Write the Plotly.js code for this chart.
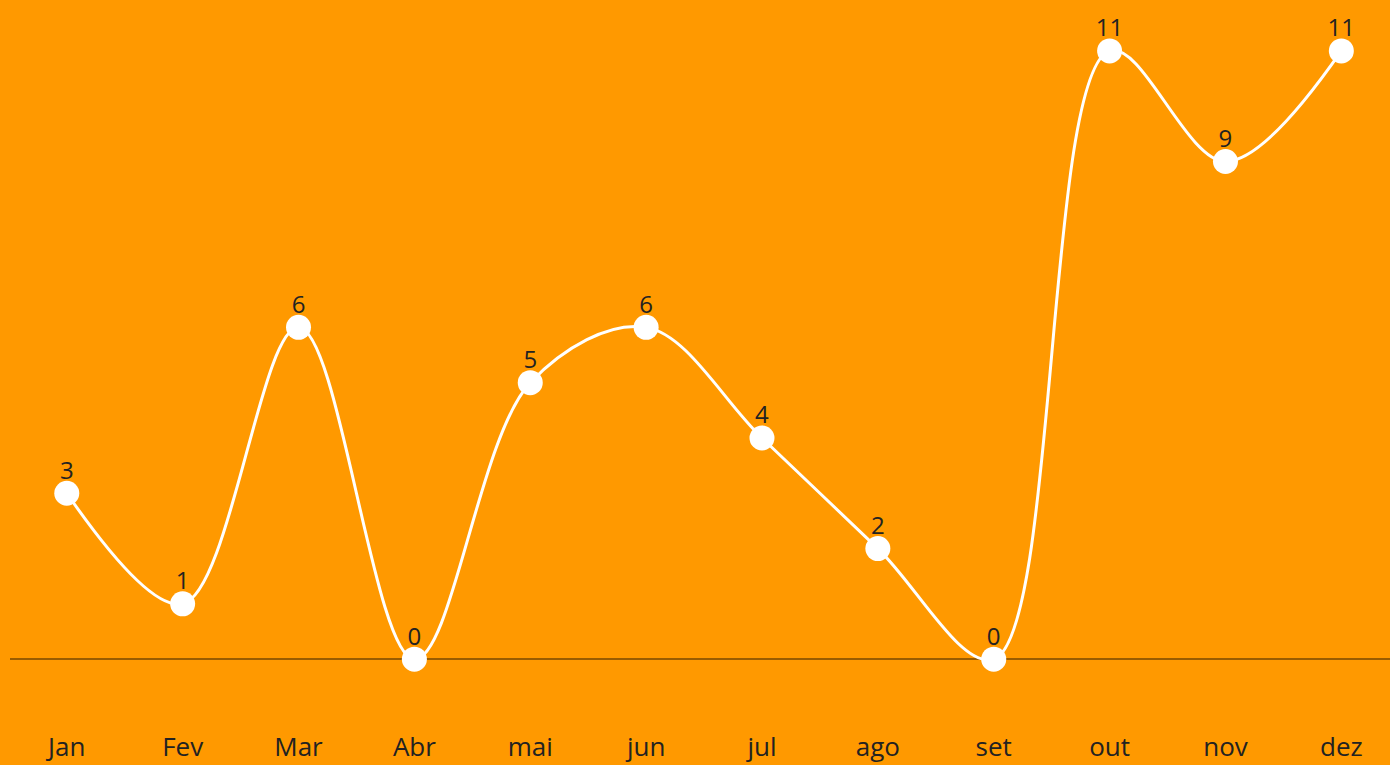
<!DOCTYPE html>
<html><head><meta charset="utf-8">
<script src="https://cdn.plot.ly/plotly-3.0.1.min.js"></script>
<style>html,body{margin:0;padding:0;background:#FF9900;}#chart{width:1390px;height:765px;}</style>
</head><body><div id="chart"></div>
<script>
const months = ["Jan","Fev","Mar","Abr","mai","jun","jul","ago","set","out","nov","dez"];
const values = [3,1,6,0,5,6,4,2,0,11,9,11];

const lineTrace = {
  x: months, y: values, type: "scatter", mode: "lines+markers",
  line: {shape: "spline", smoothing: 1, color: "#ffffff", width: 3},
  marker: {size: 25, color: "#ffffff"},
  cliponaxis: false, hoverinfo: "skip"
};
const textTrace = {
  x: months, y: values, type: "scatter", mode: "markers+text",
  marker: {size: 12, opacity: 0},
  text: values.map(String), textposition: "top center",
  textfont: {family: "'Open Sans', 'Noto Sans', sans-serif", size: 24, color: "#222222"},
  cliponaxis: false, hoverinfo: "skip"
};
const layout = {
  width: 1390, height: 765,
  paper_bgcolor: "#FF9900", plot_bgcolor: "#FF9900",
  margin: {l: 10, r: 0, t: 0, b: 45},
  showlegend: false,
  font: {family: "'Open Sans', 'Noto Sans', sans-serif", size: 24, color: "#222222"},
  xaxis: {range: [-0.49, 11.42], showgrid: false, zeroline: false, showline: false, ticks: "", tickfont: {size: 26}, ticklabelstandoff: 9},
  yaxis: {range: [-1.10, 11.92], showgrid: false, showticklabels: false, zeroline: true, zerolinecolor: "#9a5c00", zerolinewidth: 2}
};
Plotly.newPlot("chart", [lineTrace, textTrace], layout, {displayModeBar: false, staticPlot: true});
</script></body></html>
